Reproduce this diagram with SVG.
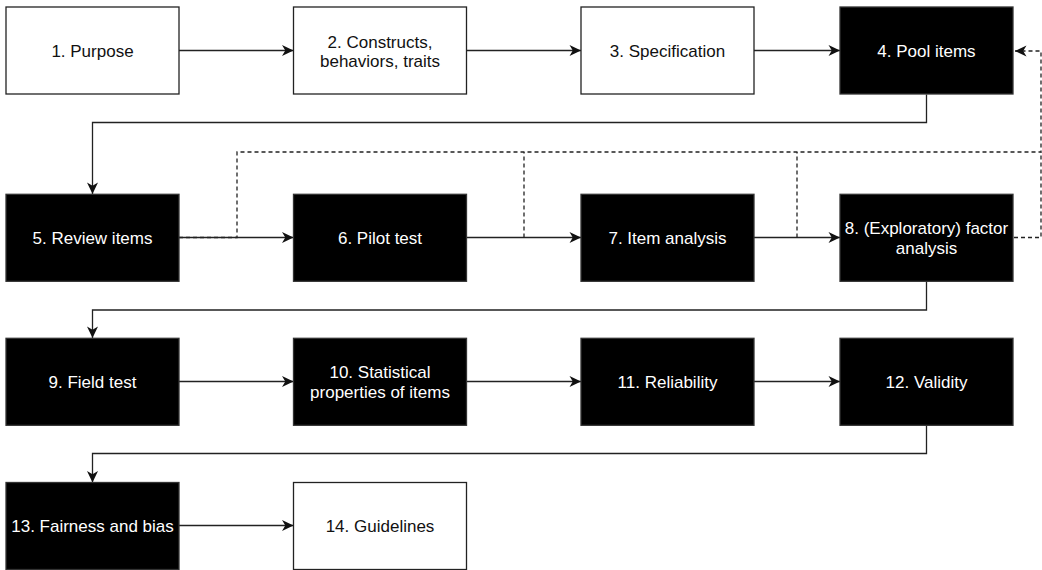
<svg xmlns="http://www.w3.org/2000/svg" width="1042" height="570" viewBox="0 0 1042 570">
<style>
.w rect{fill:#fff;stroke:#222;stroke-width:1.3}
.b rect{fill:#000;stroke:#333;stroke-width:1.3}
text{font-family:"Liberation Sans",Arial,sans-serif;font-size:17px;text-anchor:middle}
.w text{fill:#111}
.b text{fill:#fff}
.c path{fill:none;stroke:#222;stroke-width:1.3}
.c path.d{stroke-dasharray:4 3}
</style>
<defs>
<marker id="a" markerUnits="userSpaceOnUse" markerWidth="12" markerHeight="12" viewBox="0 0 12 12" refX="12" refY="6" orient="auto">
<path d="M0.5,0.5 L12,6 L0.5,11.5 L3.8,6 z" fill="#111"/>
</marker>
</defs>
<g class="c" id="connectors">
<path d="M179,50.5 H293.5" marker-end="url(#a)"/>
<path d="M466.5,50.5 H581" marker-end="url(#a)"/>
<path d="M754,50.5 H840" marker-end="url(#a)"/>
<path d="M926.5,94.5 V122.5 H92.5 V194" marker-end="url(#a)"/>
<path d="M179,237.5 H293.5" marker-end="url(#a)"/>
<path d="M466.5,237.5 H581" marker-end="url(#a)"/>
<path d="M754,237.5 H840" marker-end="url(#a)"/>
<path d="M926.5,281 V310 H92.5 V338" marker-end="url(#a)"/>
<path d="M179,381.5 H293.5" marker-end="url(#a)"/>
<path d="M466.5,381.5 H581" marker-end="url(#a)"/>
<path d="M754,381.5 H840" marker-end="url(#a)"/>
<path d="M926.5,425 V453.5 H92.5 V482.5" marker-end="url(#a)"/>
<path d="M179,525.5 H293.5" marker-end="url(#a)"/>
<path class="d" d="M179,237.5 H237 V152 H1041 V51 H1015" marker-end="url(#a)"/>
<path class="d" d="M524,237.5 V152"/>
<path class="d" d="M797,237.5 V152"/>
<path class="d" d="M1014,237.5 H1041 V152"/>
</g>
<g id="n1" class="w"><rect x="6" y="7" width="173" height="87"/><text x="92.5" y="57">1. Purpose</text></g>
<g id="n2" class="w"><rect x="293.5" y="7" width="173" height="87"/><text x="380" y="47.5">2. Constructs,</text><text x="380" y="67">behaviors, traits</text></g>
<g id="n3" class="w"><rect x="581" y="7" width="173" height="87"/><text x="667.5" y="57">3. Specification</text></g>
<g id="n4" class="b"><rect x="840" y="7" width="173" height="87"/><text x="926.5" y="57">4. Pool items</text></g>
<g id="n5" class="b"><rect x="6" y="194.3" width="173" height="87"/><text x="92.5" y="244">5. Review items</text></g>
<g id="n6" class="b"><rect x="293.5" y="194.3" width="173" height="87"/><text x="380" y="244">6. Pilot test</text></g>
<g id="n7" class="b"><rect x="581" y="194.3" width="173" height="87"/><text x="667.5" y="244">7. Item analysis</text></g>
<g id="n8" class="b"><rect x="840" y="194.3" width="173" height="87"/><text x="926.5" y="234">8. (Exploratory) factor</text><text x="926.5" y="253.5">analysis</text></g>
<g id="n9" class="b"><rect x="6" y="338.3" width="173" height="87"/><text x="92.5" y="388">9. Field test</text></g>
<g id="n10" class="b"><rect x="293.5" y="338.3" width="173" height="87"/><text x="380" y="378">10. Statistical</text><text x="380" y="397.5">properties of items</text></g>
<g id="n11" class="b"><rect x="581" y="338.3" width="173" height="87"/><text x="667.5" y="388">11. Reliability</text></g>
<g id="n12" class="b"><rect x="840" y="338.3" width="173" height="87"/><text x="926.5" y="388">12. Validity</text></g>
<g id="n13" class="b"><rect x="6" y="482.5" width="173" height="87"/><text x="92.5" y="532">13. Fairness and bias</text></g>
<g id="n14" class="w"><rect x="293.5" y="482.5" width="173" height="87"/><text x="380" y="532">14. Guidelines</text></g>
</svg>
